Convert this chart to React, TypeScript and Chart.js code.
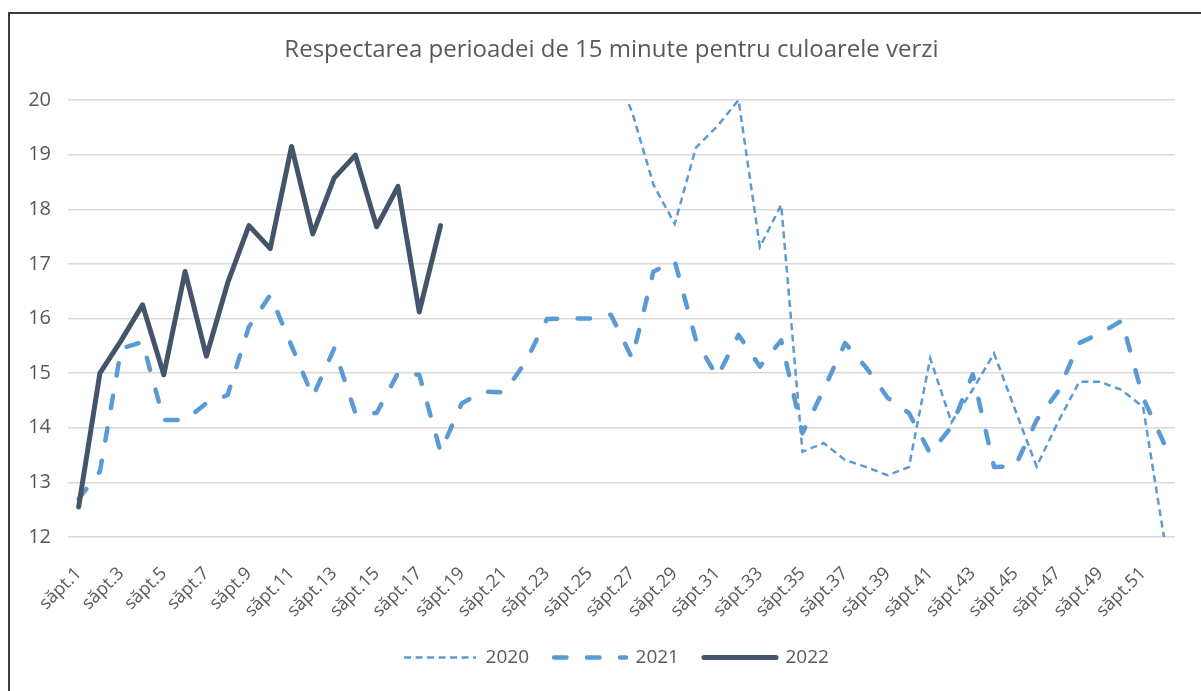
import React, { useEffect, useRef } from "react";
import { Chart, registerables } from "chart.js";

Chart.register(...registerables);

const TITLE = "Respectarea perioadei de 15 minute pentru culoarele verzi";

const weeks: string[] = Array.from({ length: 52 }, (_, i) => `săpt.${i + 1}`);

const series2020: (number | null)[] = [
  null, null, null, null, null, null, null, null, null, null,
  null, null, null, null, null, null, null, null, null, null,
  null, null, null, null, null, 20.7, 19.78, 18.45, 17.73, 19.13,
  19.52, 20.0, 17.31, 18.08, 13.56, 13.72, 13.41, 13.28, 13.13, 13.28,
  15.27, 14.1, 14.7, 15.36, 14.32, 13.29, 14.1, 14.84, 14.84, 14.69,
  14.38, 11.95,
];

const series2021: number[] = [
  12.7, 13.2, 15.45, 15.57, 14.14, 14.14, 14.45, 14.6, 15.85, 16.43,
  15.5, 14.57, 15.45, 14.27, 14.27, 15.0, 14.97, 13.56, 14.45, 14.66,
  14.65, 15.21, 15.99, 16.0, 16.0, 16.07, 15.27, 16.86, 17.05, 15.6,
  14.93, 15.7, 15.12, 15.6, 13.9, 14.7, 15.55, 15.1, 14.55, 14.27,
  13.53, 14.02, 14.98, 13.28, 13.3, 14.14, 14.66, 15.55, 15.73, 15.96,
  14.55, 13.7,
];

const series2022: number[] = [
  12.55, 15.0, 15.6, 16.25, 14.97, 16.86, 15.31, 16.65, 17.7, 17.28,
  19.15, 17.55, 18.57, 18.99, 17.68, 18.42, 16.12, 17.7,
];

const yTicks: number[] = [12, 13, 14, 15, 16, 17, 18, 19, 20];

const FONT = "'Open Sans', 'Noto Sans', sans-serif";
const TEXT = "#595959";

const shiftPlugin = {
  id: "shiftBoxes",
  afterLayout(chart: any) {
    const l = chart.legend;
    if (l) {
      l.left += 29;
      l.right += 29;
    }
    const t = chart.titleBlock;
    if (t) {
      t.left += 24;
      t.right += 24;
    }
  },
};

export default function App() {
  const ref = useRef<HTMLCanvasElement | null>(null);

  useEffect(() => {
    document.body.style.margin = "0";
    const ctx = ref.current;
    if (!ctx) return;
    const chart = new Chart(ctx, {
      type: "line",
      plugins: [shiftPlugin],
      data: {
        labels: weeks,
        datasets: [
          {
            label: "2020",
            data: series2020,
            borderColor: "#5B9BD5",
            backgroundColor: "#5B9BD5",
            borderWidth: 2.5,
            borderDash: [7, 4.5],
            pointRadius: 0,
            tension: 0,
            order: 2,
          },
          {
            label: "2021",
            data: series2021,
            borderColor: "#5B9BD5",
            backgroundColor: "#5B9BD5",
            borderWidth: 4.5,
            borderDash: [12.5, 20.5],
            borderCapStyle: "round",
            borderJoinStyle: "round",
            pointRadius: 0,
            tension: 0,
            order: 1,
          },
          {
            label: "2022",
            data: series2022,
            borderColor: "#44546A",
            backgroundColor: "#44546A",
            borderWidth: 5,
            borderCapStyle: "round",
            borderJoinStyle: "round",
            pointRadius: 0,
            tension: 0,
            order: 0,
          },
        ],
      },
      options: {
        animation: false,
        responsive: true,
        maintainAspectRatio: false,
        layout: { padding: { left: 0, right: 26, top: 0, bottom: 14 } },
        plugins: {
          title: {
            display: true,
            text: TITLE,
            color: TEXT,
            font: { family: FONT, size: 24, weight: "normal", lineHeight: 1.2 },
            padding: { top: 35.6, bottom: 35.6 },
          },
          legend: {
            display: true,
            position: "bottom",
            labels: {
              usePointStyle: true,
              pointStyle: "line",
              pointStyleWidth: 72,
              boxHeight: 19,
              padding: 25,
              color: TEXT,
              font: { family: FONT, size: 19 },
              generateLabels: (c: any) =>
                c.data.datasets.map((ds: any, i: number) => ({
                  text: ds.label,
                  fillStyle: ds.borderColor,
                  strokeStyle: ds.borderColor,
                  lineWidth: ds.borderWidth,
                  lineDash: ds.borderDash || [],
                  lineCap: ds.borderCapStyle || "butt",
                  lineJoin: "round",
                  pointStyle: "line",
                  hidden: false,
                  datasetIndex: i,
                  fontColor: TEXT,
                })),
            },
          },
          tooltip: { enabled: false },
        },
        scales: {
          x: {
            offset: true,
            grid: { display: false },
            border: { display: false },
            ticks: {
              autoSkip: false,
              minRotation: 45,
              maxRotation: 45,
              padding: 18,
              color: TEXT,
              font: { family: FONT, size: 18 },
              callback: (_v: any, i: number) => (i % 2 === 0 ? weeks[i] : ""),
            },
            afterFit: (s: any) => {
              s.height = 86;
            },
          },
          y: {
            min: yTicks[0],
            max: yTicks[yTicks.length - 1],
            grid: { color: "#D9D9D9", lineWidth: 1.5, drawTicks: false },
            border: { display: false },
            ticks: {
              stepSize: 1,
              padding: 17,
              color: TEXT,
              font: { family: FONT, size: 20 },
            },
            afterFit: (s: any) => {
              s.width = 68;
            },
          },
        },
      },
    });
    return () => chart.destroy();
  }, []);

  return (
    <div style={{ position: "relative", width: 1201, height: 691, background: "#fff" }}>
      <canvas ref={ref} />
      <div
        style={{
          position: "absolute",
          left: 8,
          top: 12,
          right: 0,
          bottom: 0,
          borderLeft: "2px solid #3c3c3c",
          borderTop: "2px solid #3c3c3c",
          pointerEvents: "none",
        }}
      />
    </div>
  );
}
